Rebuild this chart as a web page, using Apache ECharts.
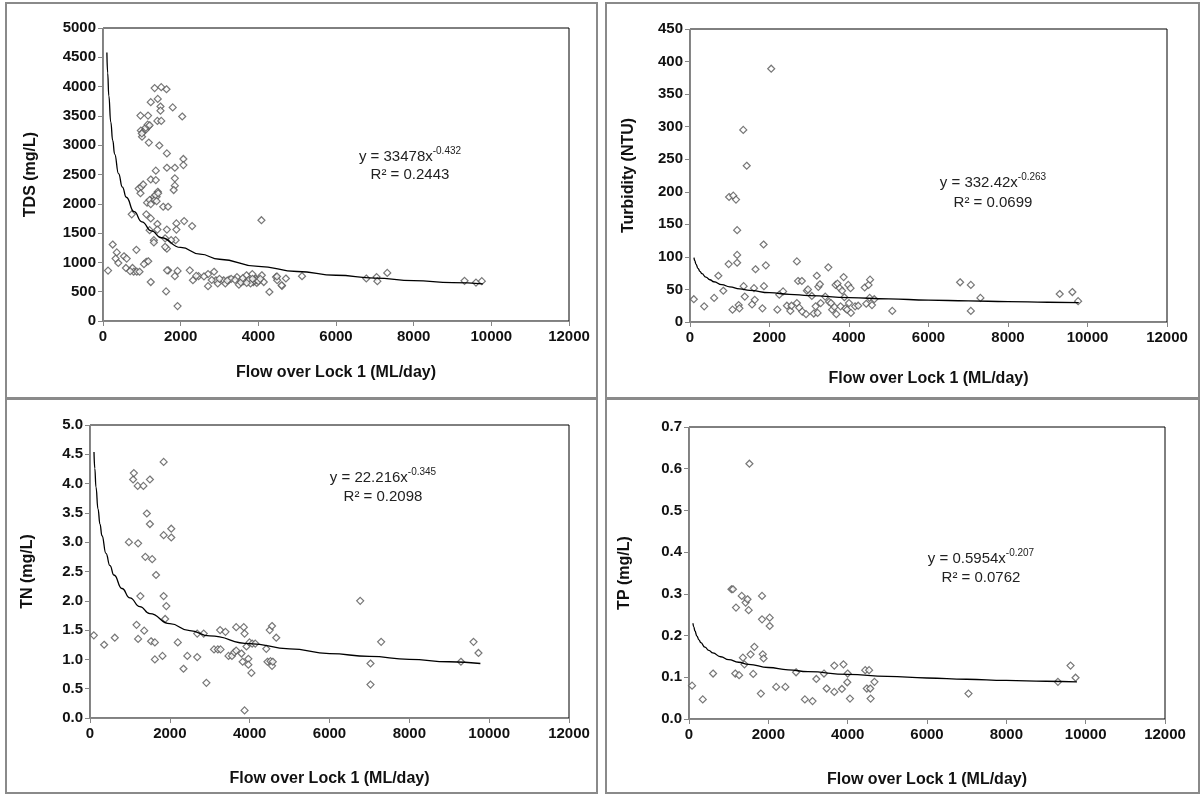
<!DOCTYPE html>
<html>
<head>
<meta charset="utf-8">
<script src="https://cdn.jsdelivr.net/npm/echarts@6/dist/echarts.min.js"></script>
<style>
html,body{margin:0;padding:0;background:#fff;}
#c{width:1203px;height:796px;}
</style>
</head>
<body>
<div id="c"></div>
<script>
// ---------- Data ----------
const xTitle = 'Flow over Lock 1 (ML/day)';
const panelTitles = ['TDS (mg/L)', 'Turbidity (NTU)', 'TN (mg/L)', 'TP (mg/L)'];
const eqTexts = [['33478', '-0.432', '0.2443'], ['332.42', '-0.263', '0.0699'], ['22.216', '-0.345', '0.2098'], ['0.5954', '-0.207', '0.0762']];

const tdsFlow = [130,250,355,325,394,540,610,590,740,760,790,860,870,940,700,920,985,1035,965,975,1035,1005,1105,1170,1180,965,1160,1230,1330,1500,1635,1410,1480,1480,1400,1500,1450,1795,2040,1645,2070,2070,1645,1850,1850,1850,1820,1360,1230,1360,1135,1200,1230,1310,1380,1410,1330,1380,1550,1675,1115,1230,1400,1400,1200,1645,1890,1890,2090,2295,1310,1310,1600,1645,1600,1870,1755,1680,1650,1920,1850,1625,1920,1230,1115,1165,1055,2235,2315,2460,2705,2705,2860,2905,2955,3105,3250,3150,3450,3500,3625,3695,3845,3870,3940,3960,4090,4140,4080,4285,4455,4485,4610,4710,5125,6780,7045,7065,7320,9310,9605,9755,3300,3400,3550,3600,3750,3800,3900,3950,4000,4050,2800,3000,3200,1350,1420,1000,1100,1150,1200,4480,4600,2400,2600,3700,3850];
const tdsValue = [860,1305,1170,1065,990,1105,1065,905,1820,905,840,1215,840,840,850,2260,2290,2330,2180,3250,3230,3145,3270,3320,3045,3505,3505,3735,3975,3990,3955,3790,3660,3590,3415,3415,2995,3645,3490,2860,2765,2660,2615,2615,2435,2310,2235,2565,2415,2405,2020,2065,1995,2120,2120,2205,2065,2045,1950,1950,1820,1750,1655,1560,1550,1560,1665,1560,1705,1620,1380,1340,1410,1235,1265,1380,1380,865,865,855,765,505,255,665,1010,1020,970,865,695,765,800,595,840,695,640,695,705,640,750,620,680,780,800,665,725,650,780,665,1720,495,750,695,600,725,765,725,750,680,820,685,655,680,720,700,660,730,700,640,690,700,680,720,700,720,690,2150,2180,3200,3300,3350,3340,760,610,770,760,650,720];

const turbFlow = [96,357,607,713,838,973,983,1089,1157,1186,1186,1186,1070,1224,1243,1340,1427,1349,1378,1561,1610,1629,1648,1822,1851,1860,1908,2043,2198,2246,2342,2438,2525,2554,2689,2689,2718,2747,2814,2824,2920,2940,2968,3065,3113,3161,3190,3210,3229,3268,3287,3402,3480,3499,3547,3576,3634,3663,3682,3711,3769,3788,3827,3865,3884,3913,3952,3981,4000,4039,4048,4154,4231,4395,4434,4492,4530,4520,4578,4636,5089,6795,7065,7065,7306,9301,9619,9764];
const turbValue = [35,24,37,71,48,89,192,194,188,141,103,91,19,26,21,295,240,55,39,27,52,34,81,21,119,55,87,389,19,42,47,25,17,25,93,29,63,22,63,16,12,48,50,40,13,24,71,14,54,58,29,39,84,31,29,19,23,57,12,59,52,24,48,69,38,21,19,57,29,52,14,24,25,53,28,57,65,37,26,35,17,61,57,17,37,43,46,32];

const tnFlow = [96,354,621,975,1080,1099,1195,1338,1501,1205,1262,1166,1205,1358,1386,1424,1501,1558,1530,1625,1625,1654,1816,1845,1845,1845,1883,1912,2036,2036,2199,2342,2438,2686,2686,2849,2916,3107,3203,3260,3270,3394,3470,3556,3614,3662,3662,3795,3824,3853,3872,3872,3920,3967,3967,3996,4044,4063,4140,4417,4446,4503,4522,4560,4560,4579,4666,6769,7027,7027,7294,9293,9608,9732];
const tnValue = [1.41,1.25,1.37,3.00,4.07,4.18,3.96,3.96,4.07,2.98,2.08,1.59,1.35,1.49,2.75,3.49,3.31,2.71,1.31,1.29,1.00,2.44,1.06,4.37,3.12,2.08,1.69,1.91,3.23,3.08,1.29,0.84,1.06,1.04,1.44,1.44,0.60,1.17,1.17,1.50,1.17,1.47,1.06,1.06,1.12,1.15,1.55,1.10,0.96,1.55,1.44,0.13,1.22,1.01,0.91,1.29,0.77,1.27,1.27,1.18,0.96,1.50,0.97,1.57,0.89,0.96,1.37,2.00,0.93,0.57,1.30,0.96,1.30,1.11];

const tpFlow = [77,347,607,1070,1108,1185,1166,1263,1330,1359,1398,1427,1475,1504,1523,1552,1619,1648,1812,1841,1841,1860,1880,2034,2034,2198,2429,2699,2921,3114,3210,3403,3470,3663,3663,3855,3894,3990,4000,4058,4443,4482,4540,4569,4579,4675,7046,9301,9619,9745];
const tpValue = [0.080,0.047,0.109,0.311,0.311,0.267,0.109,0.105,0.295,0.147,0.131,0.279,0.287,0.261,0.612,0.155,0.108,0.173,0.061,0.295,0.239,0.155,0.145,0.243,0.223,0.077,0.077,0.112,0.047,0.043,0.096,0.109,0.073,0.065,0.128,0.072,0.131,0.088,0.109,0.049,0.117,0.073,0.117,0.073,0.049,0.089,0.061,0.089,0.128,0.099];

// fitted power trend lines as drawn in the reference
const trendFlow = [100,120,150,200,250,300,400,500,600,800,1000,1250,1500,2000,2500,3000,4000,5000,6000,7000,8000,9000,9780];
const tdsTrend = [4580,4232,3843,3394,3082,2849,2516,2285,2112,1865,1693,1538,1421,1255,1140,1054,931,845,781,731,690,656,632];
const turbTrend = [99.0,94.4,89.0,82.5,77.8,74.2,68.8,64.9,61.8,57.3,54.0,51.0,48.6,45.0,42.5,40.5,37.5,35.4,33.7,32.4,31.3,30.3,29.7];
const tnTrend = [4.54,4.26,3.94,3.57,3.31,3.11,2.81,2.60,2.44,2.21,2.05,1.90,1.78,1.61,1.49,1.40,1.27,1.18,1.10,1.05,1.00,0.96,0.93];
const tpTrend = [0.2295,0.2210,0.2110,0.1989,0.1899,0.1829,0.1723,0.1645,0.1584,0.1492,0.1425,0.1361,0.1310,0.1234,0.1179,0.1135,0.1069,0.1021,0.0983,0.0953,0.0927,0.0905,0.0889];

const xTicks = {min: 0, max: 12000, interval: 2000};
const yTicks = [
  {min: 0, max: 5000, interval: 500, dec: 0},
  {min: 0, max: 450, interval: 50, dec: 0},
  {min: 0, max: 5, interval: 0.5, dec: 1},
  {min: 0, max: 0.7, interval: 0.1, dec: 1}
];

// ---------- Layout ----------
const grids = [
  {left: 103, top: 28, width: 466, height: 293},
  {left: 690, top: 29, width: 477, height: 293},
  {left: 90, top: 425, width: 479, height: 293},
  {left: 689, top: 427, width: 476, height: 292}
];
const xNameGaps = [44, 49, 53, 53];
const yNameGaps = [64, 53, 54, 56];
const eqPos = [[410, 155, 175], [993, 181, 203], [383, 476, 497], [981, 557, 578]];
const panels = [[6, 3, 591, 395], [606, 3, 593, 395], [6, 399, 591, 394], [606, 399, 593, 394]];

const pair = (xs, ys) => xs.map((x, i) => [x, ys[i]]);
const scatterSets = [pair(tdsFlow, tdsValue), pair(turbFlow, turbValue), pair(tnFlow, tnValue), pair(tpFlow, tpValue)];
const trendSets = [pair(trendFlow, tdsTrend), pair(trendFlow, turbTrend), pair(trendFlow, tnTrend), pair(trendFlow, tpTrend)];

const FONT = '"Liberation Sans", Arial, sans-serif';
const axisGray = '#868686';

const xAxes = [], yAxes = [], series = [], graphics = [];
for (let i = 0; i < 4; i++) {
  xAxes.push({
    type: 'value', gridIndex: i, min: xTicks.min, max: xTicks.max, interval: xTicks.interval,
    name: xTitle, nameLocation: 'middle', nameGap: xNameGaps[i],
    nameTextStyle: {fontFamily: FONT, fontWeight: 'bold', fontSize: 16, color: '#111'},
    axisLine: {show: true, onZero: false, lineStyle: {color: axisGray, width: 1}},
    axisTick: {show: true, inside: false, length: 5, lineStyle: {color: axisGray}},
    axisLabel: {fontFamily: FONT, fontWeight: 'bold', fontSize: 15, color: '#111', margin: 8,
      formatter: v => String(v)},
    splitLine: {show: false}
  });
  const yt = yTicks[i];
  yAxes.push({
    type: 'value', gridIndex: i, min: yt.min, max: yt.max, interval: yt.interval,
    name: panelTitles[i], nameLocation: 'middle', nameGap: yNameGaps[i], nameRotate: 90,
    nameTextStyle: {fontFamily: FONT, fontWeight: 'bold', fontSize: 16, color: '#111'},
    axisLine: {show: true, onZero: false, lineStyle: {color: axisGray, width: 1}},
    axisTick: {show: true, inside: false, length: 5, lineStyle: {color: axisGray}},
    axisLabel: {fontFamily: FONT, fontWeight: 'bold', fontSize: 15, color: '#111', margin: 7,
      formatter: v => v.toFixed(yt.dec)},
    splitLine: {show: false}
  });
  series.push({
    type: 'scatter', xAxisIndex: i, yAxisIndex: i, data: scatterSets[i],
    symbol: 'diamond', symbolSize: 7, z: 3,
    itemStyle: {color: '#ffffff', borderColor: '#555', borderWidth: 1.2}
  });
  series.push({
    type: 'line', xAxisIndex: i, yAxisIndex: i, data: trendSets[i],
    showSymbol: false, smooth: true, smoothMonotone: 'x', z: 4,
    lineStyle: {color: '#000', width: 1.3}
  });
  const p = panels[i];
  graphics.push({type: 'rect', shape: {x: p[0], y: p[1], width: p[2], height: p[3]},
    style: {fill: 'none', stroke: '#8a8a8a', lineWidth: 2}, z: 0});
  const e = eqTexts[i], q = eqPos[i];
  graphics.push({type: 'text', x: q[0], y: q[1], z: 10,
    style: {text: '{b|y = ' + e[0] + 'x}{s|' + e[1] + '}', align: 'center', verticalAlign: 'middle',
      rich: {b: {fontFamily: FONT, fontSize: 15, fill: '#222', lineHeight: 18, verticalAlign: 'bottom'},
             s: {fontFamily: FONT, fontSize: 10, fill: '#222', lineHeight: 18, verticalAlign: 'top'}}}});
  graphics.push({type: 'text', x: q[0], y: q[2], z: 10,
    style: {text: 'R\u00B2 = ' + e[2], align: 'center', verticalAlign: 'middle',
      font: '15px ' + FONT, fill: '#222'}});
}

const chart = echarts.init(document.getElementById('c'), null, {renderer: 'canvas'});
chart.setOption({
  backgroundColor: '#ffffff',
  animation: false,
  grid: grids.map(g => Object.assign({show: true, borderColor: '#000', borderWidth: 1, backgroundColor: 'transparent', containLabel: false}, g)),
  xAxis: xAxes,
  yAxis: yAxes,
  series: series,
  graphic: graphics
});
</script>
</body>
</html>
